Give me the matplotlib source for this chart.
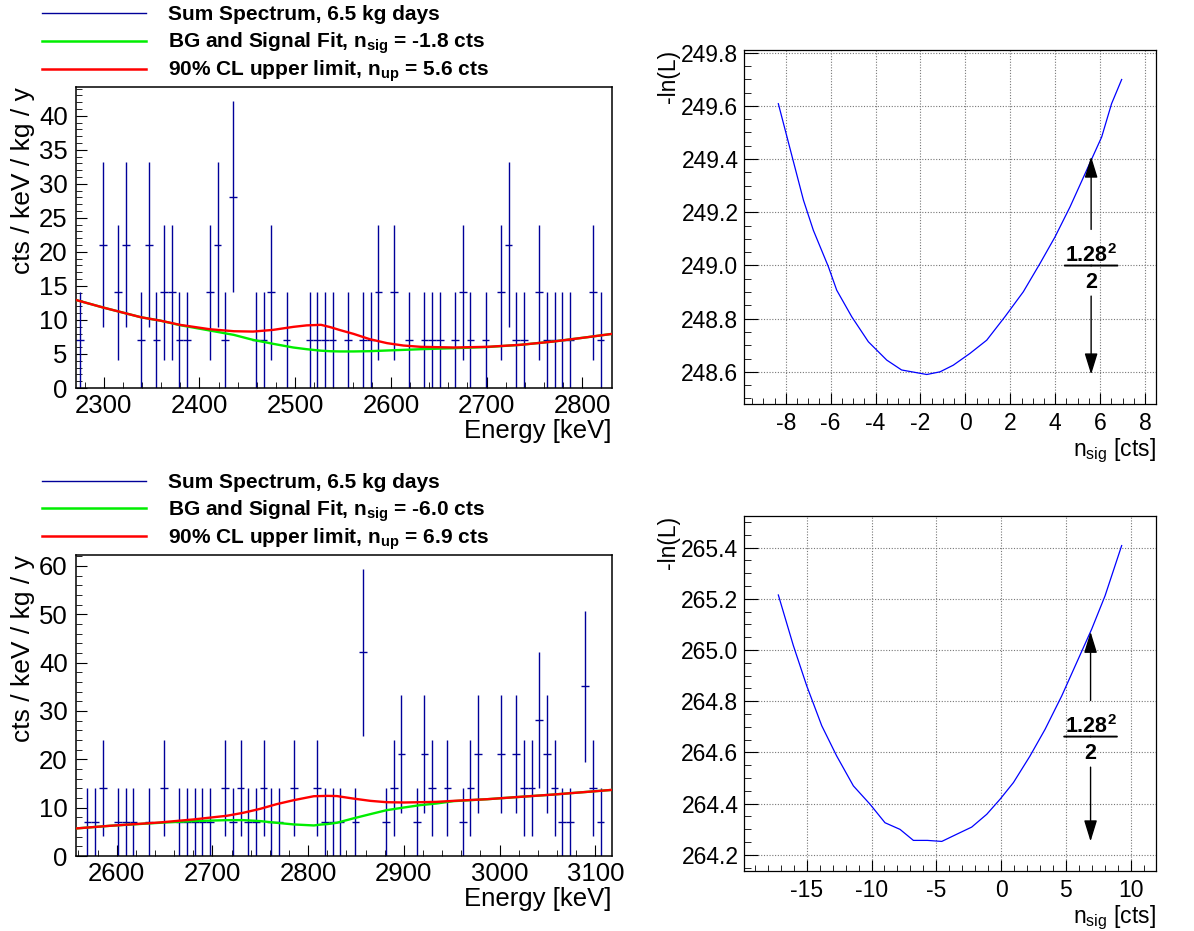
import numpy as np
import matplotlib
matplotlib.use("Agg")
import matplotlib.pyplot as plt
from matplotlib.ticker import MultipleLocator, FormatStrFormatter
from matplotlib.lines import Line2D

plt.rcParams['font.family'] = ['Liberation Sans', 'DejaVu Sans']
plt.rcParams['mathtext.fontset'] = 'custom'
plt.rcParams['mathtext.rm'] = 'Liberation Sans'
plt.rcParams['mathtext.it'] = 'Liberation Sans:italic'
plt.rcParams['mathtext.bf'] = 'Liberation Sans:bold'
plt.rcParams['axes.unicode_minus'] = False

# ---------------------------------------------------------------- data
EXPOSURE_KG_DAYS = 6.5
BIN_WIDTH = 8.0  # keV
RATE_PER_COUNT = 365.0 / (BIN_WIDTH * EXPOSURE_KG_DAYS)  # cts/keV/kg/y per count

# Te-130 window (70 bins of 8 keV)
te_range = (2271.0, 2831.0)
te_counts = [1, 0, 0, 3, 0, 2, 3, 0, 1, 3,
             1, 2, 2, 1, 1, 0, 0, 2, 3, 1,
             4, 0, 0, 1, 1, 2, 0, 1, 0, 0,
             1, 1, 1, 1, 0, 1, 0, 1, 1, 2,
             0, 2, 0, 1, 0, 1, 1, 1, 0, 1,
             2, 1, 0, 1, 0, 2, 3, 1, 1, 0,
             2, 1, 1, 1, 1, 0, 0, 2, 1, 0]
te_fit_energy = [2271, 2300, 2339, 2359, 2380, 2411, 2436, 2456, 2477, 2498,
                 2512, 2527, 2537, 2547, 2561, 2578, 2596, 2613, 2631, 2666,
                 2701, 2735, 2770, 2805, 2831]
te_fit_bg_sig = [12.93, 11.80, 10.39, 9.90, 9.22, 8.44, 7.80, 7.07, 6.49, 5.95,
                 5.70, 5.48, 5.40, 5.37, 5.37, 5.41, 5.51, 5.60, 5.70, 5.85,
                 6.02, 6.34, 6.83, 7.46, 7.95]
te_fit_upper = [12.93, 11.80, 10.39, 9.90, 9.27, 8.63, 8.34, 8.29, 8.54, 8.98,
                9.20, 9.28, 8.93, 8.50, 7.95, 7.17, 6.59, 6.24, 6.05, 5.95,
                6.05, 6.34, 6.83, 7.46, 7.95]
te_n_sig, te_n_up = -1.8, 5.6

# Cd-116 window (70 bins of 8 keV)
cd_range = (2557.5, 3117.5)
cd_counts = [0, 1, 1, 2, 0, 1, 1, 1, 0, 1,
             0, 2, 0, 1, 1, 1, 1, 1, 0, 2,
             1, 2, 1, 1, 2, 1, 1, 0, 2, 0,
             0, 2, 1, 1, 1, 0, 1, 6, 0, 0,
             1, 2, 3, 0, 1, 3, 2, 0, 2, 0,
             1, 2, 3, 0, 0, 3, 0, 3, 2, 2,
             4, 3, 2, 1, 1, 0, 5, 2, 1, 0]
cd_fit_energy = [2557.5, 2593, 2645, 2680, 2715, 2732, 2750, 2767, 2785, 2806,
                 2813, 2820, 2830, 2847, 2865, 2882, 2900, 2917, 2934, 2952,
                 2987, 3021, 3056, 3091, 3117.5]
cd_fit_bg_sig = [5.70, 6.25, 6.87, 7.22, 7.42, 7.42, 7.22, 6.87, 6.53, 6.32,
                 6.50, 6.60, 6.87, 7.77, 8.66, 9.48, 10.03, 10.52, 10.86, 11.35,
                 11.75, 12.23, 12.71, 13.26, 13.68]
cd_fit_upper = [5.70, 6.25, 6.94, 7.56, 8.32, 8.93, 9.76, 10.72, 11.55, 12.37,
                12.40, 12.44, 12.40, 11.89, 11.41, 11.13, 11.07, 11.13, 11.20, 11.41,
                11.75, 12.23, 12.71, 13.26, 13.68]
cd_n_sig, cd_n_up = -6.0, 6.9

# likelihood scans
te_scan_n = [-8.33, -7.21, -6.77, -6.10, -5.73, -5.06, -4.32, -3.50, -2.84, -1.72,
             -1.13, -0.54, 0.20, 0.95, 1.76, 2.58, 3.32, 3.99, 4.66, 5.40,
             6.07, 6.51, 6.96]
te_scan_nll = [249.608, 249.245, 249.132, 248.995, 248.907, 248.807, 248.713, 248.644,
               248.607, 248.590, 248.600, 248.625, 248.669, 248.719, 248.807, 248.901,
               249.007, 249.107, 249.220, 249.358, 249.483, 249.608, 249.699]
cd_scan_n = [-17.19, -16.03, -15.00, -13.84, -12.69, -11.40, -10.11, -8.96, -7.80, -6.77,
             -5.69, -4.58, -3.43, -2.27, -1.11, -0.08, 0.95, 2.23, 3.39, 4.68,
             5.83, 6.99, 8.02, 9.30]
cd_scan_nll = [265.215, 265.017, 264.860, 264.704, 264.586, 264.469, 264.397, 264.325,
               264.299, 264.256, 264.256, 264.252, 264.280, 264.308, 264.358, 264.417,
               264.482, 264.586, 264.690, 264.821, 264.951, 265.082, 265.212, 265.408]
DELTA_NLL = 1.28 ** 2 / 2

# ---------------------------------------------------------------- style
W, H = 1194, 931
SPEC_BLUE = '#000099'
FIT_GREEN = '#00ee00'
FIT_RED = '#ff0000'
SCAN_BLUE = '#0000ff'

fig = plt.figure(figsize=(W / 100, H / 100), dpi=100)


def px_axes(left, top, right, bottom):
    return fig.add_axes([left / W, 1 - bottom / H, (right - left) / W, (bottom - top) / H])


def spectrum_panel(ax, xrange, counts, fit_e, fit_bg, fit_up, ymajor, yminor):
    counts = np.asarray(counts, dtype=float)
    edges = xrange[0] + BIN_WIDTH * np.arange(len(counts) + 1)
    centers = 0.5 * (edges[:-1] + edges[1:])
    rate = counts * RATE_PER_COUNT
    err = np.sqrt(counts) * RATE_PER_COUNT
    filled = counts > 0
    ax.errorbar(centers[filled], rate[filled], yerr=err[filled], xerr=BIN_WIDTH / 2,
                fmt='none', ecolor=SPEC_BLUE, elinewidth=1.0, capsize=0, zorder=2)
    ax.plot(fit_e, fit_bg, color=FIT_GREEN, lw=1.7, zorder=3)
    ax.plot(fit_e, fit_up, color=FIT_RED, lw=1.7, zorder=4)
    ax.set_xlim(*xrange)
    ax.set_ylim(0, 1.05 * np.max(rate + err))
    ax.xaxis.set_major_locator(MultipleLocator(100))
    ax.xaxis.set_minor_locator(MultipleLocator(20))
    ax.yaxis.set_major_locator(MultipleLocator(ymajor))
    ax.yaxis.set_minor_locator(MultipleLocator(yminor))
    ax.tick_params(which='both', direction='in', top=False, right=False, labelsize=18.5)
    ax.tick_params(axis='y', which='major', length=8, pad=6)
    ax.tick_params(axis='y', which='minor', length=4)
    ax.tick_params(axis='x', which='major', length=8, pad=4)
    ax.tick_params(axis='x', which='minor', length=4)
    for s in ax.spines.values():
        s.set_linewidth(1.1)
    ax.set_xlabel('Energy [keV]', fontsize=18.5, loc='right', labelpad=1)
    ax.set_ylabel('cts / keV / kg / y', fontsize=19, loc='top')
    ax.yaxis.set_label_coords(-0.077, 1.0)


def scan_panel(ax, n, nll, n_up, xmajor, xminor):
    ax.plot(n, nll, color=SCAN_BLUE, lw=0.9)
    xr = max(n) - min(n)
    yr = max(nll) - min(nll)
    ax.set_xlim(min(n) - 0.1 * xr, max(n) + 0.1 * xr)
    ax.set_ylim(min(nll) - 0.1 * yr, max(nll) + 0.1 * yr)
    ax.xaxis.set_major_locator(MultipleLocator(xmajor))
    ax.xaxis.set_minor_locator(MultipleLocator(xminor))
    ax.yaxis.set_major_locator(MultipleLocator(0.2))
    ax.yaxis.set_minor_locator(MultipleLocator(0.05))
    ax.yaxis.set_major_formatter(FormatStrFormatter('%.1f'))
    ax.grid(True, which='major', ls=(0, (1, 1.5)), color='#777777', lw=0.8)
    ax.tick_params(which='both', direction='in', top=False, right=False, labelsize=16.5)
    ax.tick_params(axis='y', which='major', length=10, pad=4)
    ax.tick_params(axis='y', which='minor', length=5)
    ax.tick_params(axis='x', which='major', length=8, pad=6)
    ax.tick_params(axis='x', which='minor', length=4)
    for s in ax.spines.values():
        s.set_linewidth(0.9)
    ax.set_xlabel(r'n$_{\mathrm{sig}}$ [cts]', fontsize=16.5, loc='right', labelpad=1)
    ax.set_ylabel('-ln(L)', fontsize=16.5, loc='top')
    ax.yaxis.set_label_coords(-0.155, 1.0)

    # arrow spanning the 90% CL likelihood rise
    lo = min(nll)
    hi = lo + DELTA_NLL
    mid = lo + DELTA_NLL / 2
    arrow = dict(arrowstyle='-|>,head_length=1.3,head_width=0.4', mutation_scale=10,
                 color='black', lw=1.0, shrinkB=0)
    ax.annotate('', xy=(n_up, hi), xytext=(n_up, mid), arrowprops=dict(arrow, shrinkA=26))
    ax.annotate('', xy=(n_up, lo), xytext=(n_up, mid), arrowprops=dict(arrow, shrinkA=22))
    for side in (-19, 19):
        ax.annotate('', xy=(n_up, mid), xytext=(side, 0), textcoords='offset points',
                    arrowprops=dict(arrowstyle='-', color='black', lw=1.4,
                                    shrinkA=0, shrinkB=0))
    ax.annotate(r'1.28$^{\mathbf{2}}$', xy=(n_up, mid), xytext=(0, 2.5),
                textcoords='offset points', ha='center', va='baseline',
                fontsize=15.5, fontweight='bold')
    ax.annotate('2', xy=(n_up, mid), xytext=(0, -4.5), textcoords='offset points',
                ha='center', va='top', fontsize=15.5, fontweight='bold')


def legend_block(y0, n_sig, n_up):
    rows = [(SPEC_BLUE, 1.0, 'Sum Spectrum, %.1f kg days' % EXPOSURE_KG_DAYS),
            (FIT_GREEN, 1.8, r'BG and Signal Fit, n$_{\mathbf{sig}}$ = %.1f cts' % n_sig),
            (FIT_RED, 1.8, r'90%% CL upper limit, n$_{\mathbf{up}}$ = %.1f cts' % n_up)]
    for i, (col, lw, label) in enumerate(rows):
        y = y0 + i * 27.8
        fig.add_artist(Line2D([42 / W, 146 / W], [1 - y / H, 1 - y / H],
                              color=col, lw=lw))
        fig.text(168 / W, 1 - (y + 7) / H, label, fontsize=15, fontweight='bold',
                 va='baseline', ha='left')


ax_te = px_axes(76, 87, 612, 388)
spectrum_panel(ax_te, te_range, te_counts, te_fit_energy, te_fit_bg_sig, te_fit_upper, 5, 1)
ax_cd = px_axes(76, 555, 612, 856)
spectrum_panel(ax_cd, cd_range, cd_counts, cd_fit_energy, cd_fit_bg_sig, cd_fit_upper, 10, 2)

ax_te_scan = px_axes(744, 50, 1156, 404)
scan_panel(ax_te_scan, te_scan_n, te_scan_nll, te_n_up, 2, 0.5)
ax_cd_scan = px_axes(744, 516, 1156, 871)
scan_panel(ax_cd_scan, cd_scan_n, cd_scan_nll, cd_n_up, 5, 1)

legend_block(13.3, te_n_sig, te_n_up)
legend_block(480.7, cd_n_sig, cd_n_up)

fig.savefig('out.png', dpi=100)
